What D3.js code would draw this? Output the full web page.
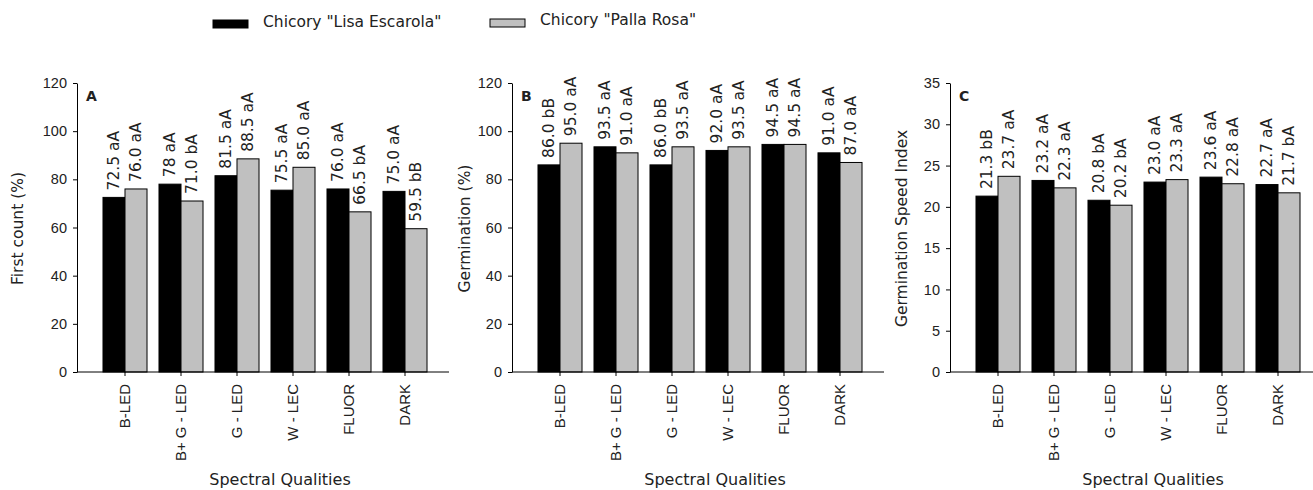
<!DOCTYPE html>
<html>
<head>
<meta charset="utf-8">
<script src="https://cdn.jsdelivr.net/npm/d3@7"></script>
<style>
  html, body { margin: 0; padding: 0; background: #fff; }
  svg { display: block; font-family: "DejaVu Sans", "Noto Sans", sans-serif; }
  text { fill: #222; }
</style>
</head>
<body>
<svg id="chart" width="1313" height="490"></svg>
<script>
// Light treatments (x categories)
const categories = ["B-LED", "B+ G - LED", "G - LED", "W - LEC", "FLUOR", "DARK"];
const seriesNames = ['Chicory "Lisa Escarola"', 'Chicory "Palla Rosa"'];
const seriesColors = ["#000000", "#c0c0c0"];

// A: first count (%)
const firstCountLisa = [72.5, 78, 81.5, 75.5, 76.0, 75.0];
const firstCountPalla = [76.0, 71.0, 88.5, 85.0, 66.5, 59.5];
const firstCountLisaLabels = ["72.5 aA", "78 aA", "81.5 aA", "75.5 aA", "76.0 aA", "75.0 aA"];
const firstCountPallaLabels = ["76.0 aA", "71.0 bA", "88.5 aA", "85.0 aA", "66.5 bA", "59.5 bB"];

// B: germination (%)
const germLisa = [86.0, 93.5, 86.0, 92.0, 94.5, 91.0];
const germPalla = [95.0, 91.0, 93.5, 93.5, 94.5, 87.0];
const germLisaLabels = ["86.0 bB", "93.5 aA", "86.0 bB", "92.0 aA", "94.5 aA", "91.0 aA"];
const germPallaLabels = ["95.0 aA", "91.0 aA", "93.5 aA", "93.5 aA", "94.5 aA", "87.0 aA"];

// C: germination speed index
const gsiLisa = [21.3, 23.2, 20.8, 23.0, 23.6, 22.7];
const gsiPalla = [23.7, 22.3, 20.2, 23.3, 22.8, 21.7];
const gsiLisaLabels = ["21.3 bB", "23.2 aA", "20.8 bA", "23.0 aA", "23.6 aA", "22.7 aA"];
const gsiPallaLabels = ["23.7 aA", "22.3 aA", "20.2 bA", "23.3 aA", "22.8 aA", "21.7 bA"];

// Y-axis ticks
const percentTicks = [0, 20, 40, 60, 80, 100, 120];
const gsiTicks = [0, 5, 10, 15, 20, 25, 30, 35];

const panels = [
  { letter: "A", yTitle: "First count (%)", axisX: 77, titleX: 18, yMax: 120, ticks: percentTicks,
    values: [firstCountLisa, firstCountPalla], labels: [firstCountLisaLabels, firstCountPallaLabels] },
  { letter: "B", yTitle: "Germination (%)", axisX: 512, titleX: 465, yMax: 120, ticks: percentTicks,
    values: [germLisa, germPalla], labels: [germLisaLabels, germPallaLabels] },
  { letter: "C", yTitle: "Germination Speed Index", axisX: 950, titleX: 902, yMax: 35, ticks: gsiTicks,
    values: [gsiLisa, gsiPalla], labels: [gsiLisaLabels, gsiPallaLabels] }
];

const svg = d3.select("#chart");
const plotTop = 83, plotBottom = 372;
const axisLength = 372;

panels.forEach(p => {
  const g = svg.append("g");
  const y = d3.scaleLinear().domain([0, p.yMax]).range([plotBottom, plotTop]);
  const x0 = p.axisX + 20;
  const x = d3.scaleBand().domain(categories).range([x0, x0 + 336])
    .paddingInner(0.214).paddingOuter(0.107);
  const xs = d3.scaleBand().domain([0, 1]).range([0, x.bandwidth()]);

  // bars
  p.values.forEach((vals, si) => {
    g.append("g").selectAll("rect").data(vals).join("rect")
      .attr("x", (d, i) => x(categories[i]) + xs(si))
      .attr("y", d => y(d))
      .attr("width", xs.bandwidth())
      .attr("height", d => y(0) - y(d))
      .attr("fill", seriesColors[si])
      .attr("stroke", "#000")
      .attr("stroke-width", 1);

    // value labels above bars
    g.append("g").selectAll("text").data(vals).join("text")
      .attr("transform", (d, i) => {
        const cx = x(categories[i]) + xs(si) + xs.bandwidth() / 2;
        return `translate(${cx},${y(d) - 7}) rotate(-90)`;
      })
      .attr("dy", "0.35em")
      .attr("text-anchor", "start")
      .style("font-size", "15.5px")
      .text((d, i) => p.labels[si][i]);
  });

  // y axis
  const yAxis = g.append("g").attr("transform", `translate(${p.axisX},0)`)
    .call(d3.axisLeft(y).tickValues(p.ticks).tickSize(4).tickPadding(6).tickSizeOuter(0));
  yAxis.selectAll("text").style("font-size", "14.5px").attr("fill", "#222");
  yAxis.select(".domain").attr("stroke", "#000");

  // x axis
  const xAxis = g.append("g").attr("transform", `translate(0,${plotBottom})`)
    .call(d3.axisBottom(x).tickSize(4).tickSizeOuter(0));
  xAxis.select(".domain").remove();
  xAxis.append("line")
    .attr("x1", p.axisX).attr("x2", p.axisX + axisLength)
    .attr("stroke", "#000");
  xAxis.selectAll(".tick text")
    .attr("transform", "rotate(-90)")
    .attr("x", -12).attr("y", 0).attr("dy", "0.35em")
    .attr("text-anchor", "end")
    .attr("fill", "#222")
    .style("font-size", "15px");

  // panel letter
  g.append("text")
    .attr("x", p.axisX + 9).attr("y", 101)
    .style("font-size", "14px").style("font-weight", "bold")
    .attr("fill", "#000")
    .text(p.letter);

  // y title
  g.append("text")
    .attr("transform", `translate(${p.titleX},${(plotTop + plotBottom) / 2 + 1}) rotate(-90)`)
    .attr("text-anchor", "middle").attr("dy", "0.35em")
    .style("font-size", "15.5px")
    .text(p.yTitle);

  // x title
  const ticksMid = (x(categories[0]) + x(categories[5]) + x.bandwidth()) / 2;
  g.append("text")
    .attr("x", ticksMid + 15).attr("y", 485)
    .attr("text-anchor", "middle")
    .style("font-size", "16px")
    .text("Spectral Qualities");
});

// legend
const legendItems = [
  { name: seriesNames[0], color: seriesColors[0], x: 213, y: 20, ty: 22 },
  { name: seriesNames[1], color: seriesColors[1], x: 490, y: 19, ty: 20 }
];
const lg = svg.append("g").selectAll("g").data(legendItems).join("g")
  .attr("transform", d => `translate(${d.x},${d.y})`);
lg.append("rect").attr("width", 35).attr("height", 8)
  .attr("fill", d => d.color).attr("stroke", "#000").attr("stroke-width", 1);
lg.append("text").attr("x", 50).attr("y", d => d.ty - d.y).attr("dy", "0.35em")
  .style("font-size", "15.5px").text(d => d.name);
</script>
</body>
</html>
